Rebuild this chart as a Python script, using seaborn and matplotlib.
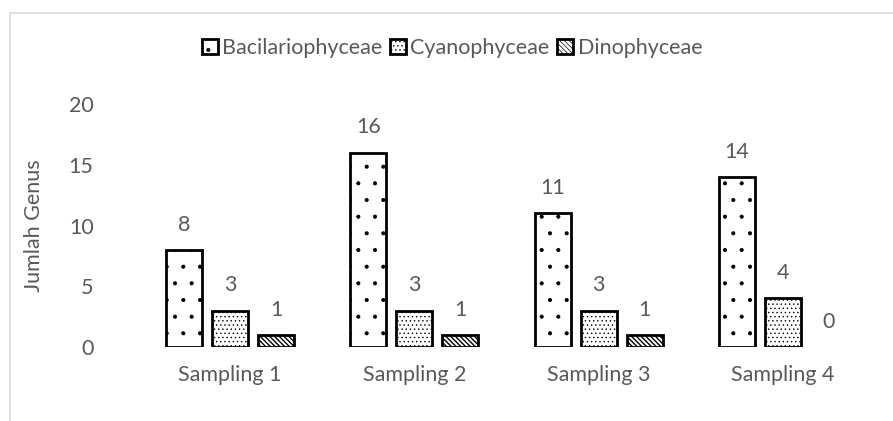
import matplotlib
matplotlib.use("Agg")
import matplotlib.pyplot as plt
import seaborn as sns
import pandas as pd
from matplotlib.lines import Line2D

categories = ["Sampling 1", "Sampling 2", "Sampling 3", "Sampling 4"]
series_names = ["Bacilariophyceae", "Cyanophyceae", "Dinophyceae"]
bacilariophyceae = [8, 16, 11, 14]
cyanophyceae = [3, 3, 3, 4]
dinophyceae = [1, 1, 1, 0]
y_ticks = [0, 5, 10, 15, 20]

df = pd.DataFrame({
    "Sampling": categories * 3,
    "Kelas": [series_names[0]] * 4 + [series_names[1]] * 4 + [series_names[2]] * 4,
    "Jumlah": bacilariophyceae + cyanophyceae + dinophyceae,
})

sns.set_style("white")
plt.rcParams["font.family"] = ["Lato", "DejaVu Sans"]
plt.rcParams["hatch.linewidth"] = 0.5

gray = "#595959"
fs = 15.5
fig = plt.figure(figsize=(8.93, 4.21), dpi=100)
ax = fig.add_axes([138 / 893, (421 - 347) / 421, (875 - 138) / 893, (347 - 104) / 421])

sns.barplot(data=df, x="Sampling", y="Jumlah", hue="Kelas", order=categories,
            hue_order=series_names, palette=["white"] * 3, edgecolor="black",
            linewidth=2.0, width=0.75, gap=0.22, ax=ax, legend=True)

hatches = [".", "....", "\\\\\\\\\\\\\\"]
hatch_lw = [0.5, 0.5, 1.0]
for cont, h, hl in zip(ax.containers, hatches, hatch_lw):
    for bar in cont:
        bar.set_hatch(h)
        try:
            bar.set_hatch_linewidth(hl)
        except Exception:
            pass
        if bar.get_height() == 0:
            bar.set_linewidth(0)
            bar.set_hatch(None)
    ax.bar_label(cont, padding=11, fontsize=fs, color=gray)

ax.set_xlim(-0.5, 3.5)
ax.set_ylim(0, 20)
ax.set_yticks(y_ticks)
ax.tick_params(axis="both", length=0, labelsize=fs, colors=gray)
ax.tick_params(axis="y", pad=32)
ax.tick_params(axis="x", pad=13)
ax.set_xlabel("")
ax.set_ylabel("Jumlah Genus", fontsize=fs, color=gray, labelpad=18)
for s in ax.spines.values():
    s.set_visible(False)

handles, labels = ax.get_legend_handles_labels()
for hd, h, hl in zip(handles, hatches, hatch_lw):
    hd.set_hatch(h)
    try:
        hd.set_hatch_linewidth(hl)
    except Exception:
        pass
ax.legend(handles, labels, loc="center", bbox_to_anchor=(452 / 893, 1 - 48 / 421),
          bbox_transform=fig.transFigure, ncol=3, frameon=False, fontsize=fs,
          handlelength=0.75, handleheight=0.75, handletextpad=0.2, columnspacing=0.35,
          labelcolor=gray)

# figure border (partially visible)
fig.add_artist(Line2D([10 / 893, 1], [1 - 13 / 421, 1 - 13 / 421], transform=fig.transFigure,
                      color="#d9d9d9", lw=1.2))
fig.add_artist(Line2D([10 / 893, 10 / 893], [0, 1 - 13 / 421], transform=fig.transFigure,
                      color="#d9d9d9", lw=1.2))

fig.savefig("out.png", dpi=100)
